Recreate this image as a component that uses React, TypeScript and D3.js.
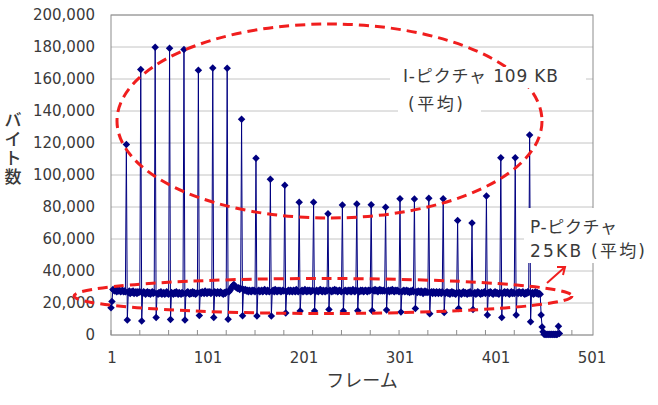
import * as d3 from "d3";

const WIDTH = 658;
const HEIGHT = 405;
const PLOT = { left: 111, right: 593, top: 15, bottom: 335 };

const Y_TICKS = [0, 20000, 40000, 60000, 80000, 100000, 120000, 140000, 160000, 180000, 200000];
const X_LABELS = [1, 101, 201, 301, 401, 501];
const X_MINOR = [1, 31, 61, 91, 121, 151, 181, 211, 241, 271, 301, 331, 361, 391, 421, 451, 481];

// frames before the first I-picture (KB)
const LEAD_FRAMES = [17, 21, 28.5, 28, 27.5, 28.5, 27, 28, 27.5, 28, 27, 27.5, 28, 27, 27.5, 27];

// one entry per GOP: I-picture, the frame right after it, then P-pictures (KB)
const I_FRAMES = [
  119, 166, 179.8, 179.2, 178.5, 165.4, 166.9, 166.7, 134.8, 110.4, 97.3, 93.6, 82.9, 82.9, 75.8,
  81.25, 81.9, 81.45, 79.8, 85.2, 85, 85.4, 85.2, 71.5, 70, 86.9, 110.8, 110.8, 125,
];
const AFTER_I = [
  9.4, 8.75, 11, 9.7, 9.4, 12.2, 10.9, 9.8, 12, 11.9, 11.9, 13.7, 15, 15, 16,
  15, 15.2, 15.2, 15.6, 14.3, 16.6, 13.3, 14, 16.6, 16, 12.5, 11, 12.5, 8.3,
];
const P_FRAMES = [
  [26.5, 27.5, 26, 27, 26.5, 27.5, 26, 26.5, 27, 26, 27, 26.5, 27],
  [26, 27, 26.5, 25.5, 26.5, 27, 26, 26.5, 25.5, 26.5, 27, 26, 26.5],
  [26, 25.5, 26.5, 26, 27, 25.5, 26, 26.5, 25.5, 26, 27, 26, 25.5],
  [26.5, 26, 25.5, 26.5, 26, 27, 26, 25.5, 26.5, 26, 25.5, 26.5, 26],
  [26, 26.5, 27, 26, 25.5, 26.5, 26, 27, 26, 26.5, 25.5, 26, 26.5],
  [26.5, 26, 27, 26.5, 26, 27.5, 26.5, 26, 27, 26.5, 27, 26, 26.5],
  [27, 26.5, 26, 27, 26.5, 26, 27, 26.5, 26, 25.5, 26.5, 26, 27],
  [27, 28, 29, 30, 31, 31.5, 30.5, 30, 29.5, 29, 29.5, 28.5, 29],
  [28.5, 28, 28.5, 27.5, 28, 27, 28, 27.5, 27, 28, 27.5, 28, 27],
  [27.5, 28, 27, 27.5, 28, 27, 27.5, 28.5, 27.5, 27, 28, 27.5, 27],
  [27.5, 28, 27, 28.5, 27.5, 27, 28, 27.5, 28, 27, 27.5, 28, 27.5],
  [27, 27.5, 28, 27, 28, 27.5, 27, 28, 27.5, 27, 28.5, 27.5, 27],
  [27.5, 28, 27, 27.5, 28.5, 27.5, 27, 28, 27.5, 28, 27, 27.5, 28],
  [27, 28, 27.5, 27, 28, 28.5, 27.5, 27, 28, 27.5, 27, 28, 27.5],
  [28, 27.5, 27, 28, 27.5, 28.5, 27.5, 28, 27, 27.5, 28, 27.5, 27],
  [27.5, 28, 27.5, 27, 28, 27.5, 28, 27, 27.5, 28.5, 27.5, 27, 28],
  [27.5, 27, 28, 27.5, 28, 27, 27.5, 28, 27.5, 27, 28, 27.5, 28],
  [28, 27.5, 28.5, 27.5, 28, 27, 28, 28.5, 27.5, 28, 27.5, 28, 27.5],
  [27.5, 28, 27, 28, 27.5, 28.5, 27.5, 27, 28, 27.5, 28, 27.5, 27],
  [27, 27.5, 28, 27, 27.5, 28, 27, 27.5, 26.5, 27.5, 27, 28, 27],
  [27, 26.5, 27.5, 27, 26.5, 27.5, 27, 26, 27, 27.5, 26.5, 27, 26.5],
  [26.5, 27, 26, 27, 26.5, 26, 27, 26.5, 26, 27, 26.5, 26, 27],
  [26, 26.5, 27, 26, 26.5, 25.5, 26.5, 27, 26, 26.5, 26, 25.5, 26.5],
  [26.5, 26, 25.5, 26.5, 27, 26, 26.5, 26, 25.5, 26.5, 26, 27, 26],
  [26, 26.5, 25.5, 26, 27, 26.5, 26, 25.5, 26.5, 26, 26.5, 27, 26],
  [26.5, 26, 27, 26.5, 26, 25.5, 26.5, 27, 26, 26.5, 26, 25.5, 26.5],
  [26, 26.5, 27, 26, 26.5, 27, 26, 25.5, 26.5, 27, 26, 26.5, 26],
  [26.5, 26, 27, 26.5, 26, 26.5, 27, 26, 25.5, 26.5, 26, 27, 26.5],
  [26, 26.5, 25.5, 26, 27, 26, 26.5, 25.5, 26, 25.5],
];
// end of the sequence (KB)
const TAIL_FRAMES = [12.5, 5, 2, 0.5, 0.3, 0.5, 0.3, 0.5, 0.3, 0.5, 0.3, 0.5, 0.3, 0.5, 0.3, 0.5, 0.3, 0.5, 5.5, 1];

const sizesKB: number[] = [...LEAD_FRAMES];
I_FRAMES.forEach((v, i) => {
  sizesKB.push(v, AFTER_I[i], ...P_FRAMES[i]);
});
sizesKB.push(...TAIL_FRAMES);
const frames = sizesKB.map((kb, i) => ({ frame: i + 1, bytes: kb * 1000 }));

const NAVY = "#000080";
const RED = "#f01e1e";
const TEXT = "#3a3a3a";
const NUM_FONT = "'DejaVu Sans', sans-serif";
const JP_FONT = "'DejaVu Sans', 'Noto Sans CJK JP', sans-serif";

export default function App() {
  const x = d3.scaleLinear().domain([1, 503]).range([PLOT.left, PLOT.right]);
  const y = d3.scaleLinear().domain([0, 200000]).range([PLOT.bottom, PLOT.top]);

  const line = d3
    .line<{ frame: number; bytes: number }>()
    .x((d) => x(d.frame))
    .y((d) => y(d.bytes));

  const diamond = d3.symbol(d3.symbolSquare, 28)()!;

  return (
    <svg
      width={WIDTH}
      height={HEIGHT}
      style={{ position: "absolute", left: 0, top: 0, background: "#fff" }}
    >
      {/* grid */}
      {Y_TICKS.map((t) => (
        <line
          key={t}
          x1={PLOT.left}
          x2={PLOT.right}
          y1={y(t)}
          y2={y(t)}
          stroke="#c4c4c4"
          strokeWidth={1}
        />
      ))}
      <rect
        x={PLOT.left}
        y={PLOT.top}
        width={PLOT.right - PLOT.left}
        height={PLOT.bottom - PLOT.top}
        fill="none"
        stroke="#8c8c8c"
        strokeWidth={1}
      />
      {X_MINOR.map((f) => (
        <line key={f} x1={x(f)} x2={x(f)} y1={PLOT.bottom} y2={PLOT.bottom - 5} stroke="#8c8c8c" />
      ))}

      {/* y labels */}
      {Y_TICKS.map((t) => (
        <text
          key={t}
          x={95}
          y={y(t)}
          textAnchor="end"
          dominantBaseline="central"
          fontFamily={NUM_FONT}
          fontSize={15}
          fill={TEXT}
        >
          {d3.format(",")(t)}
        </text>
      ))}
      {X_LABELS.map((f) => (
        <text
          key={f}
          x={x(f) + 1}
          y={358}
          textAnchor="middle"
          dominantBaseline="central"
          fontFamily={NUM_FONT}
          fontSize={15}
          fill={TEXT}
        >
          {f}
        </text>
      ))}
      <text
        x={362}
        y={380}
        textAnchor="middle"
        dominantBaseline="central"
        fontFamily={JP_FONT}
        fontSize={18}
        fill={TEXT}
      >
        フレーム
      </text>
      {["バ", "イ", "ト", "数"].map((c, i) => (
        <text
          key={c}
          x={13}
          y={120 + i * 19}
          textAnchor="middle"
          dominantBaseline="central"
          fontFamily={JP_FONT}
          fontSize={17}
          fontWeight={500}
          fill={TEXT}
        >
          {c}
        </text>
      ))}

      {/* data */}
      <path d={line(frames)!} fill="none" stroke={NAVY} strokeWidth={1} />
      {frames.map((d) => (
        <path
          key={d.frame}
          d={diamond}
          transform={`translate(${x(d.frame)},${y(d.bytes)}) rotate(45)`}
          fill={NAVY}
        />
      ))}

      {/* annotations */}
      <ellipse
        cx={329.5}
        cy={121}
        rx={212.5}
        ry={97}
        fill="none"
        stroke={RED}
        strokeWidth={3}
        strokeDasharray="10 6"
      />
      <ellipse
        cx={323}
        cy={296}
        rx={249}
        ry={17.5}
        fill="none"
        stroke={RED}
        strokeWidth={3}
        strokeDasharray="10 6"
      />
      <line x1={547} y1={283} x2={565} y2={267} stroke={RED} strokeWidth={2} />
      <path d="M557,267 L565,267 L563,275" fill="none" stroke={RED} strokeWidth={2} />

      <rect x={390} y={67} width={196} height={21} fill="#fff" />
      <rect x={398} y={95} width={83} height={21} fill="#fff" />
      <text
        x={403}
        y={76}
        dominantBaseline="central"
        fontFamily={JP_FONT}
        fontSize={17}
        fill={TEXT}
        textLength={155}
        lengthAdjust="spacing"
      >
        I-ピクチャ 109 KB
      </text>
      <text
        x={408}
        y={104}
        dominantBaseline="central"
        fontFamily={JP_FONT}
        fontSize={17}
        fill={TEXT}
        textLength={55}
        lengthAdjust="spacing"
      >
        (平均)
      </text>

      <rect x={524} y={208} width={132} height={55} fill="#fff" />
      <text
        x={530}
        y={227}
        dominantBaseline="central"
        fontFamily={JP_FONT}
        fontSize={17}
        fill={TEXT}
        textLength={87}
        lengthAdjust="spacing"
      >
        P-ピクチャ
      </text>
      <text
        x={530}
        y={251}
        dominantBaseline="central"
        fontFamily={JP_FONT}
        fontSize={17}
        fill={TEXT}
        textLength={115}
        lengthAdjust="spacing"
      >
        25KB  (平均)
      </text>
    </svg>
  );
}
